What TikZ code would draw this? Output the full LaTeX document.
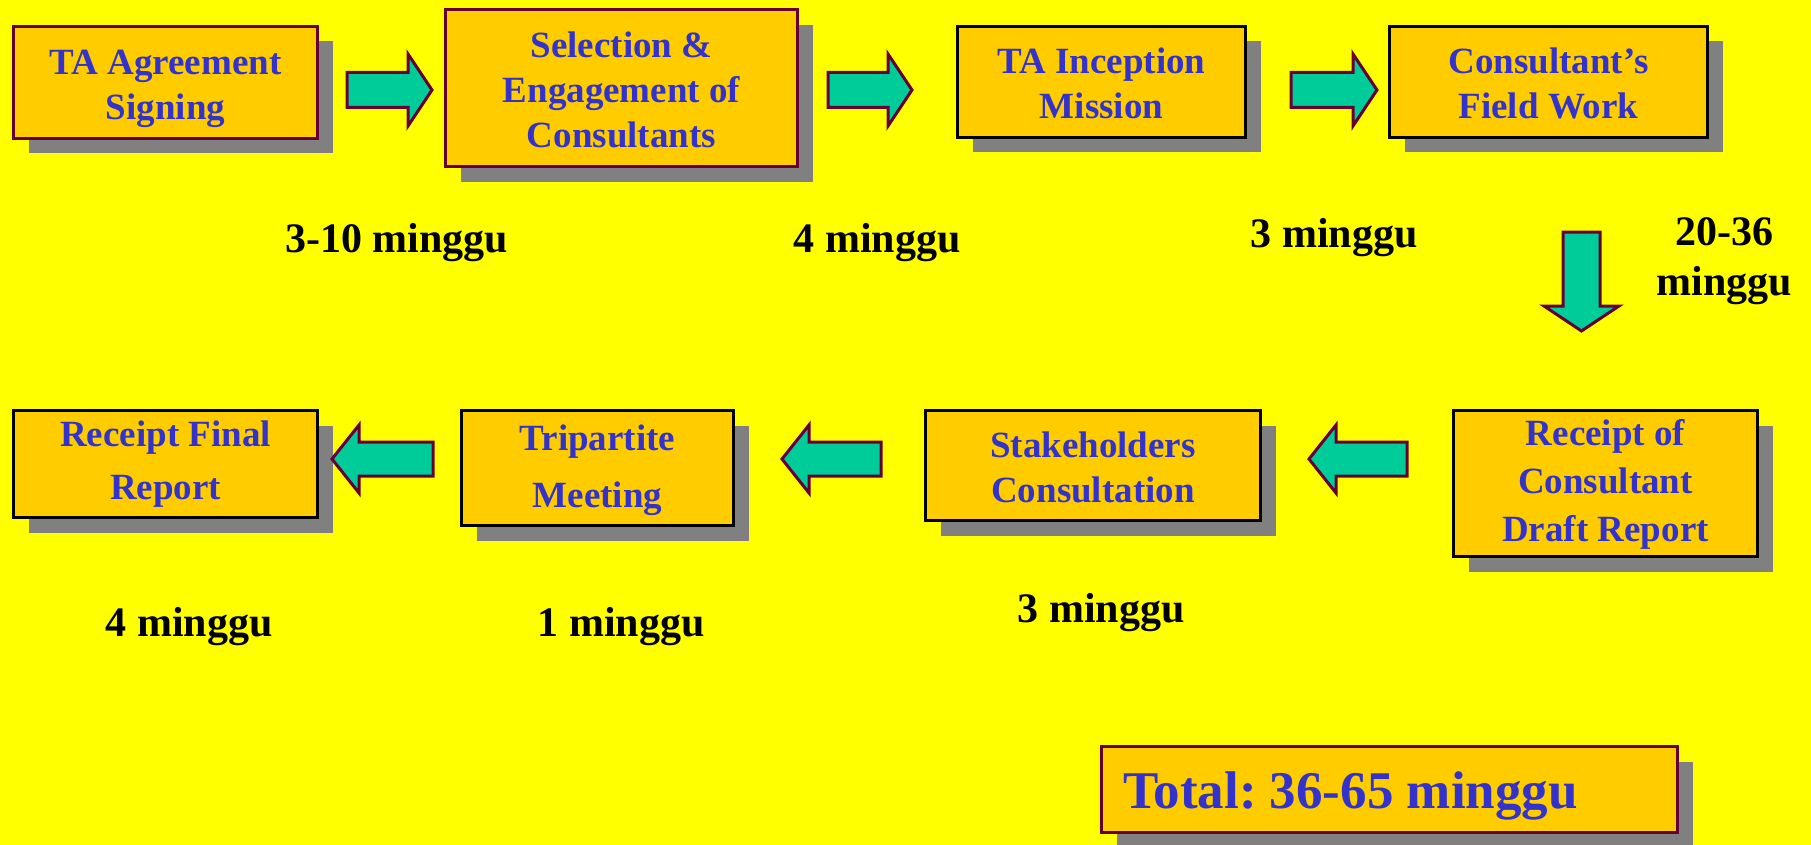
\documentclass[tikz,border=0pt]{standalone}
\usepackage{fontspec}
\setmainfont{Liberation Serif}
\frenchspacing
\usetikzlibrary{shadows}
\definecolor{bgyellow}{HTML}{FFFF00}
\definecolor{boxfill}{HTML}{FFCC00}
\definecolor{textblue}{HTML}{3333CC}
\definecolor{maroon}{HTML}{660033}
\definecolor{shadowgray}{HTML}{808080}
\definecolor{arrowgreen}{HTML}{00CC99}
\newcommand{\myup}[1]{\rule{0pt}{#1}}
\begin{document}
\begin{tikzpicture}[x=1pt,y=-1pt,
  stepbox/.style={fill=boxfill, line width=3pt, text=textblue, align=center, inner sep=0pt,
    font=\bfseries\fontsize{37}{45}\selectfont,
    drop shadow={shadow xshift=15pt, shadow yshift=-15pt, fill=shadowgray, opacity=1}},
  mbox/.style={stepbox, draw=maroon},
  kbox/.style={stepbox, draw=black},
  blockarrow/.style={fill=arrowgreen, draw=maroon, line width=3pt, line join=miter},
  dur/.style={font=\bfseries\fontsize{42}{48}\selectfont, text=black, anchor=base, inner sep=0pt}]

\fill[bgyellow] (0,0) rectangle (1811,845);
\useasboundingbox (0,0) rectangle (1811,845);

% top row
\node[mbox, minimum width=304, minimum height=112] (agree) at (165.5,82.5) {\myup{37pt}TA Agreement\\Signing};
\node[mbox, minimum width=352, minimum height=157] (select) at (621.5,88.5) {\myup{29pt}Selection \&\\Engagement of\\Consultants};
\node[kbox, minimum width=288, minimum height=111] (incept) at (1101.5,82) {\myup{29pt}TA Inception\\Mission};
\node[kbox, minimum width=318, minimum height=111] (field) at (1548.5,82) {\myup{29pt}Consultant’s\\Field Work};

% bottom row
\node[kbox, minimum width=304, minimum height=146, font=\bfseries\fontsize{37}{48}\selectfont] (draft) at (1605.5,483.5) {\myup{27pt}Receipt of\\Consultant\\Draft Report};
\node[kbox, minimum width=335, minimum height=110] (stake) at (1093,465.5) {\myup{29pt}Stakeholders\\Consultation};
\node[kbox, minimum width=272, minimum height=115, font=\bfseries\fontsize{37}{57}\selectfont] (tri) at (597.5,468) {\myup{30pt}Tripartite\\Meeting};
\node[kbox, minimum width=304, minimum height=107, font=\bfseries\fontsize{37}{53}\selectfont] (final) at (165.5,464) {Receipt Final\\Report};

% total
\node[mbox, minimum width=576, minimum height=86] (total) at (1389.5,789.5) {};
\node[anchor=base west, inner sep=0pt, text=textblue, font=\bfseries\fontsize{53}{60}\selectfont] (totaltext) at (1123,808) {Total: 36-65 minggu};

% block arrows
\draw[blockarrow] (347,72.5) -- (408,72.5) -- (408,54) -- (432,90) -- (408,126) -- (408,107.5) -- (347,107.5) -- cycle;
\draw[blockarrow] (828,72.5) -- (888,72.5) -- (888,54) -- (912,90) -- (888,126) -- (888,107.5) -- (828,107.5) -- cycle;
\draw[blockarrow] (1291,72.5) -- (1353,72.5) -- (1353,54) -- (1377,90) -- (1353,126) -- (1353,107.5) -- (1291,107.5) -- cycle;
\draw[blockarrow] (1563,232) -- (1600,232) -- (1600,306) -- (1619,306) -- (1581.5,331) -- (1544,306) -- (1563,306) -- cycle;
\draw[blockarrow] (433,442) -- (359,442) -- (359,425) -- (332,459) -- (359,493) -- (359,476) -- (433,476) -- cycle;
\draw[blockarrow] (881,442) -- (809,442) -- (809,425) -- (782,459) -- (809,493) -- (809,476) -- (881,476) -- cycle;
\draw[blockarrow] (1407,442) -- (1336,442) -- (1336,425) -- (1309,459) -- (1336,493) -- (1336,476) -- (1407,476) -- cycle;

% durations
\node[dur] (d1) at (396.5,252) {3-10 minggu};
\node[dur] (d2) at (877,252) {4 minggu};
\node[dur] (d3) at (1334,247) {3 minggu};
\node[dur, anchor=center, align=center, font=\bfseries\fontsize{42}{50}\selectfont] (d4) at (1724,261) {20-36\\minggu};
\node[dur] (d5) at (189,636) {4 minggu};
\node[dur] (d6) at (621,636) {1 minggu};
\node[dur] (d7) at (1101,622) {3 minggu};
\end{tikzpicture}
\end{document}
